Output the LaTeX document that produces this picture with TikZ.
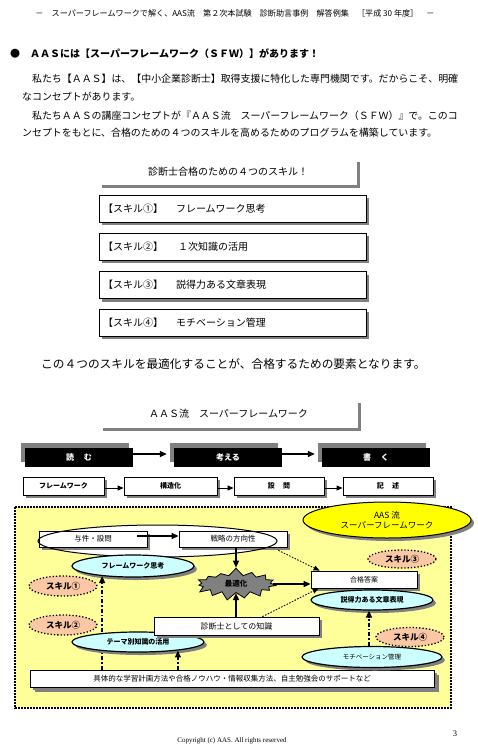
\documentclass[tikz,border=0pt]{standalone}
\usepackage{fontspec}
\newfontfamily\jp{Noto Sans CJK JP}
\newfontfamily\serifft{Liberation Serif}
\usetikzlibrary{shapes.geometric,shapes.symbols,shadows,arrows.meta}
\newcommand{\jfs}[1]{\fontsize{#1}{#1}\selectfont}
\definecolor{shadowgray}{RGB}{128,128,128}
\definecolor{bgyellow}{RGB}{255,255,153}
\definecolor{lightcyan}{RGB}{204,255,255}
\definecolor{peach}{RGB}{250,200,165}
\definecolor{brightyellow}{RGB}{255,255,0}
\definecolor{burstgray}{RGB}{128,128,128}
\tikzset{
  sh/.style={drop shadow={shadow xshift=#1, shadow yshift=-#1, opacity=1, fill=shadowgray}},
  sh/.default=3pt,
  skillbox/.style={draw, line width=0.8pt, fill=white, minimum width=267pt, minimum height=27pt,
    text width=259pt, align=left, inner xsep=4pt, sh, font=\jp\jfs{10}},
  titlebox/.style={fill=white, minimum width=258pt, minimum height=26pt, sh, font=\jp\jfs{10}},
  blackbox/.style={fill=black, text=white, minimum width=108pt, minimum height=19pt,
    font=\jp\bfseries\jfs{8},
    drop shadow={shadow xshift=-4.5pt, shadow yshift=5pt, opacity=1, fill=shadowgray}},
  rowbox/.style={draw, line width=0.8pt, fill=white, minimum height=18pt, sh=2.5pt,
    font=\jp\bfseries\jfs{7}},
  fbox/.style={draw, line width=0.8pt, fill=white, sh=3pt, font=\jp\jfs{7.5}},
  cyanell/.style={ellipse, draw, line width=1.2pt, fill=lightcyan, sh=3pt, inner sep=0pt,
    font=\jp\bfseries\jfs{7}},
  skillell/.style={ellipse, draw, dotted, line width=1.3pt, fill=peach, minimum width=68pt,
    minimum height=20pt, inner sep=0pt, font=\jp\bfseries\jfs{8.5}},
  solidarr/.style={-{Triangle[length=7pt,width=6pt]}, line width=1.4pt},
  rowarr/.style={-{Triangle[length=6pt,width=5pt]}, line width=1pt},
  dasharr/.style={-{Triangle[length=7pt,width=6pt]}, line width=1.4pt,
    dash pattern=on 4pt off 2pt on 1.5pt off 2pt},
  dotarr/.style={-{Triangle[length=6pt,width=5pt]}, line width=0.9pt,
    dash pattern=on 1.5pt off 1.5pt},
}
\begin{document}
\begin{tikzpicture}[x=1pt,y=-1pt, every node/.style={font=\jp, inner sep=0pt}]
\useasboundingbox (0,0) rectangle (478,753);
\fill[white] (0,0) rectangle (478,753);

% header
\node (hdr) at (235,13) {\jfs{8.1}－\quad スーパーフレームワークで解く、AAS流\quad 第２次本試験\quad 診断助言事例\quad 解答例集\quad ［平成 30 年度］\quad －};

% bullet title
\node[anchor=west, font=\jp\bfseries\jfs{10}] (bul) at (10,54) {●　ＡＡＳには【スーパーフレームワーク（ＳＦＷ）】があります！};

% paragraph
\node[anchor=west, font=\jp\jfs{9.93}] (p1) at (22,79) {　私たち【ＡＡＳ】は、【中小企業診断士】取得支援に特化した専門機関です。だからこそ、明確};
\node[anchor=west, font=\jp\jfs{9.93}] (p2) at (22,97) {なコンセプトがあります。};
\node[anchor=west, font=\jp\jfs{9.93}] (p3) at (22,116) {　私たちＡＡＳの講座コンセプトが『ＡＡＳ流　スーパーフレームワーク（ＳＦＷ）』で。このコ};
\node[anchor=west, font=\jp\jfs{9.93}] (p4) at (22,133) {ンセプトをもとに、合格のための４つのスキルを高めるためのプログラムを構築しています。};

% skills
\node[titlebox] (skhdr) at (228,172) {診断士合格のための４つのスキル！};
\node[skillbox] (sk1) at (232.5,208.5) {【スキル①】\hspace{13pt}フレームワーク思考};
\node[skillbox] (sk2) at (232.5,246.5) {【スキル②】\hspace{15pt}１次知識の活用};
\node[skillbox] (sk3) at (232.5,285) {【スキル③】\hspace{13pt}説得力ある文章表現};
\node[skillbox] (sk4) at (232.5,322.5) {【スキル④】\hspace{13pt}モチベーション管理};

\node[anchor=west, font=\jp\jfs{11.7}] (msg) at (41,364) {この４つのスキルを最適化することが、合格するための要素となります。};

% AAS title
\node[titlebox, minimum height=28pt] (aashdr) at (228.5,414) {ＡＡＳ流　スーパーフレームワーク};

% black boxes
\node[blackbox] (yomu) at (79,457.5) {読\hspace{1.2em}む};
\node[blackbox] (kangaeru) at (228,457.5) {考える};
\node[blackbox] (kaku) at (376,457.5) {書\hspace{1.2em}く};
\draw[solidarr, shorten >=7pt] ([yshift=3.5pt]yomu.east) -- ([yshift=3.5pt]kangaeru.west);
\draw[solidarr, shorten >=7pt] ([yshift=3.5pt]kangaeru.east) -- ([yshift=3.5pt]kaku.west);

% row boxes
\node[rowbox, minimum width=81pt] (fw) at (63.5,486) {フレームワーク};
\node[rowbox, minimum width=93pt] (kozo) at (170.5,486) {構造化};
\node[rowbox, minimum width=90pt] (setsumon) at (279,486) {設\hspace{1.2em}問};
\node[rowbox, minimum width=90pt] (kijutsu) at (388,486) {記\hspace{1.2em}述};
\draw[rowarr] ([yshift=-2pt]fw.east) -- ([yshift=-2pt]kozo.west);
\draw[rowarr] ([yshift=-2pt]kozo.east) -- ([yshift=-2pt]setsumon.west);
\draw[rowarr] ([yshift=-2pt]setsumon.east) -- ([yshift=-2pt]kijutsu.west);

% yellow region
\draw[fill=bgyellow, line width=1.4pt, dash pattern=on 2pt off 1pt] (15,507) rectangle (451,708);

\node[ellipse, draw, line width=1pt, fill=brightyellow, sh=3pt, minimum width=168pt, minimum height=36pt,
  align=center, font=\jp\jfs{8.5}] (aasell) at (387,520) {AAS 流\\[2pt]スーパーフレームワーク};

% strategy loop
\node[ellipse, fill=white, minimum width=239pt, minimum height=32pt] (loopfill) at (157.5,541) {};
\node[fbox, minimum width=108pt, minimum height=16pt] (yoken) at (93,539) {与件・設問};
\node[fbox, minimum width=108pt, minimum height=16pt] (senryaku) at (233,539) {戦略の方向性};
\node[ellipse, draw, line width=1pt, minimum width=239pt, minimum height=32pt] (loop) at (157.5,541) {};
\draw[solidarr] ([xshift=-10pt,yshift=3pt]yoken.east) -- ([yshift=3pt]senryaku.west);

\node[cyanell, minimum width=122pt, minimum height=22pt] (fwthink) at (133,566) {フレームワーク思考};

\node[skillell] (skl1) at (63,586) {スキル①};
\node[skillell] (skl2) at (63,625) {スキル②};
\node[skillell, minimum height=18pt] (skl3) at (402,559) {スキル③};
\node[skillell, minimum height=19pt] (skl4) at (410,637) {スキル④};

\node[fbox, minimum width=404pt, minimum height=17pt, sh=5pt] (gutai) at (232,678.5) {具体的な学習計画方法や合格ノウハウ・情報収集方法、自主勉強会のサポートなど};
\draw[dasharr] (gutai.north -| fwthink.198) -- (fwthink.198);

\node[cyanell, minimum width=132pt, minimum height=20pt] (theme) at (138,642) {テーマ別知識の活用};
\draw[dasharr] (gutai.north -| theme.348) -- (theme.348);

% optimisation
\node[starburst, draw, line width=0.8pt, fill=burstgray, minimum width=85pt, minimum height=33pt,
  starburst points=15, starburst point height=8pt, random starburst=7,
  font=\jp\bfseries\jfs{7.5}] (saiteki) at (236,584) {最適化};
\node[fbox, minimum width=165pt, minimum height=18pt, font=\jp\jfs{8}] (shindan) at (236.5,626) {診断士としての知識};
\node[fbox, minimum width=106pt, minimum height=17pt, font=\jp\jfs{7}] (goukaku) at (364,579.5) {合格答案};
\node[cyanell, minimum width=122pt, minimum height=20pt] (settoku) at (372,600) {説得力ある文章表現};
\node[cyanell, minimum width=140pt, minimum height=21pt, font=\jp\jfs{6.5}] (motiv) at (372,657) {モチベーション管理};

\draw[solidarr] (saiteki.north |- senryaku.south) -- (saiteki.north);
\draw[solidarr] (saiteki.south |- shindan.north) -- (saiteki.south);
\draw[solidarr] (saiteki.east) -- (saiteki.east -| goukaku.west);
\draw[dasharr] ([xshift=-3pt]motiv.north) -- ([xshift=-3pt]settoku.south);
\draw[dotarr] ([xshift=-9pt,yshift=-3pt]senryaku.south east) -- ([xshift=9pt]goukaku.north west);
\draw[dotarr] ([xshift=-57pt]shindan.north east) -- ([xshift=8pt]goukaku.south west);

% footer
\node[font=\serifft\jfs{7}] (copy) at (232,741) {Copyright (c) AAS. All rights reserved};
\node[font=\serifft\jfs{8.5}] (pg) at (455,734) {3};
\end{tikzpicture}
\end{document}
